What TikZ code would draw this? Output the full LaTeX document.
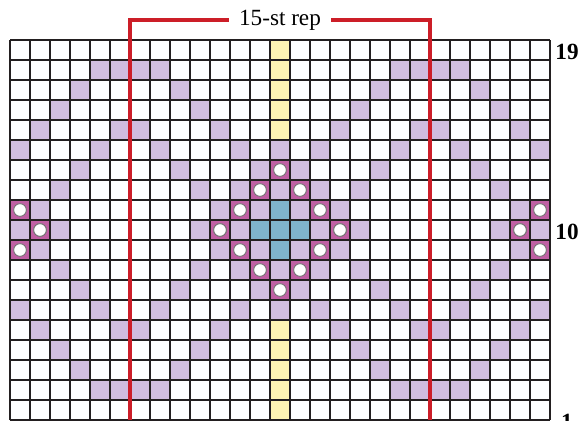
\documentclass[tikz,border=0pt]{standalone}
\usepackage{fontspec}
\setmainfont{Liberation Serif}
\usetikzlibrary{calc}
\definecolor{lila}{RGB}{208,189,222}
\definecolor{fucsia}{RGB}{192,96,164}
\definecolor{celeste}{RGB}{128,180,204}
\definecolor{crema}{RGB}{255,245,180}
\definecolor{rojo}{RGB}{204,30,40}
\definecolor{tinta}{RGB}{35,31,32}
\definecolor{grisf}{RGB}{110,110,110}
\tikzset{
  pto/.style={fill=lila},
  ojo/.style={fill=fucsia},
  cruz/.style={fill=celeste},
  guia/.style={fill=crema},
  rejilla/.style={draw=tinta, line width=0.85pt, step=0.5cm},
  ojal/.style={draw=grisf, fill=white, line width=0.6pt},
  repl/.style={draw=rojo, line width=2.4pt},
  et/.style={font=\fontsize{16.5}{18}\selectfont, inner sep=0pt, anchor=base},
  num/.style={et, font=\fontsize{16.5}{18}\selectfont\bfseries},
}
\begin{document}
\begin{tikzpicture}[x=0.5cm, y=0.5cm]
  \useasboundingbox (-0.5,0) rectangle (28.55,21);
  % center column
  \foreach \r in {1,...,5,15,16,...,19}
    \fill[guia] (13,\r-1) rectangle ++(1,1);
  % lilac stitches, upper half mirrored below
  \foreach \r/\cs in {18/{4,5,6,7,19,20,21,22}, 17/{3,8,18,23}, 16/{2,9,17,24},
      15/{1,5,6,10,16,20,21,25}, 14/{0,4,7,11,13,15,19,22,26},
      13/{3,8,12,14,18,23}, 12/{2,9,11,13,15,17,24},
      11/{1,10,12,14,16,25}, 10/{0,2,9,11,15,17,24,26}}
    \foreach \c in \cs {
      \fill[pto] (\c,\r-1) rectangle ++(1,1);
      \fill[pto] (\c,19-\r) rectangle ++(1,1);
    }
  % eyelets
  \foreach \r/\cs in {13/{13}, 12/{12,14}, 11/{0,11,15,26}, 10/{1,10,16,25}}
    \foreach \c in \cs {
      \fill[ojo] (\c,\r-1) rectangle ++(1,1);
      \fill[ojo] (\c,19-\r) rectangle ++(1,1);
    }
  % blue cross
  \foreach \c/\r in {13/11, 12/10, 13/10, 14/10, 13/9}
    \fill[cruz] (\c,\r-1) rectangle ++(1,1);
  \draw[rejilla] (0,0) grid (27,19);
  \foreach \r/\cs in {13/{13}, 12/{12,14}, 11/{0,11,15,26}, 10/{1,10,16,25}}
    \foreach \c in \cs {
      \draw[ojal] (\c+0.5,\r-0.5) circle (0.158cm);
      \draw[ojal] (\c+0.5,19.5-\r) circle (0.158cm);
    }
  % repeat bracket
  \node[et, inner xsep=7pt] (rep) at (13.5,19.7) {15-st rep};
  \coordinate (alto) at (0,20);
  \coordinate (izq) at (6,0);
  \coordinate (der) at (21,0);
  \draw[repl] (izq) |- (rep.west |- alto);
  \draw[repl] (der) |- (rep.east |- alto);
  % row numbers
  \node[num] (f19) at (27.85,18.03) {19};
  \node[num] (f10) at (27.85,9.03) {10};
  \node[num] (f1) at (27.85,-0.47) {1};
\end{tikzpicture}
\end{document}
